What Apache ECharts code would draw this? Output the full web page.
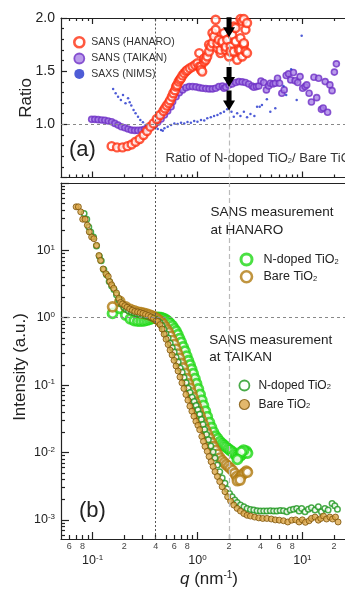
<!DOCTYPE html>
<html lang="en">
<head>
<meta charset="UTF-8">
<title>SANS / SAXS ratio and intensity</title>
<style>
  html, body { margin: 0; padding: 0; background: #fff; }
  #main { width: 345px; height: 590px; }
</style>
</head>
<body>
<div id="main"></div>
<script src="https://cdn.jsdelivr.net/npm/echarts@6.0.0/dist/echarts.min.js"></script>
<script>
// ---- panel (a): ratio N-doped / bare, points are [q (nm-1), ratio]
var ratioHanaro = [[0.152,0.795],[0.171,0.783],[0.193,0.783],[0.215,0.795],[0.236,0.811],[0.257,0.836],[0.281,0.861],
  [0.306,0.899],[0.330,0.937],[0.355,0.978],[0.381,1.009],[0.409,1.05],[0.44,1.088],[0.473,1.126],[0.49,1.15],
  [0.509,1.176],[0.53,1.2],[0.548,1.226],[0.57,1.26],[0.589,1.292],[0.61,1.32],[0.625,1.355],[0.64,1.37],[0.661,1.402],
  [0.68,1.42],[0.697,1.434],[0.72,1.46],[0.748,1.481],[0.78,1.5],[0.804,1.512],[0.847,1.528],[0.897,1.543],[0.951,1.559],
  [1.0,1.575],[1.04,1.67],[1.04,1.543],[1.08,1.543],[1.08,1.512],[1.11,1.496],[1.16,1.59],[1.16,1.62],[1.2,1.607],
  [1.24,1.638],[1.29,1.685],[1.29,1.75],[1.34,1.732],[1.39,1.764],[1.39,1.86],[1.44,1.826],[1.49,1.89],[1.49,1.984],
  [1.55,1.717],[1.55,1.76],[1.6,1.795],[1.66,1.67],[1.66,1.70],[1.73,1.764],[1.73,1.78],[1.79,1.858],[1.86,1.70],
  [1.86,1.73],[1.92,1.795],[2.0,1.638],[2.07,1.732],[2.07,1.685],[2.14,1.842],[2.22,1.685],[2.22,1.92],[2.31,1.78],
  [2.31,1.906],[2.39,1.607],[2.48,1.70],[2.57,1.811],[2.57,1.99],[2.57,1.70],[2.67,1.638],[2.67,1.97],[2.77,1.748],
  [2.77,1.99],[2.77,1.764],[2.87,1.89],[2.87,1.685],[2.97,1.67],[2.97,1.953]];
var ratioTaikan = [[0.098,1.047],[0.105,1.047],[0.113,1.044],[0.122,1.041],[0.131,1.038],[0.141,1.031],[0.152,1.025],
  [0.163,1.009],[0.175,0.993],[0.188,0.977],[0.203,0.968],[0.218,0.956],[0.234,0.946],[0.252,0.943],[0.27,0.943],
  [0.291,0.946],[0.313,0.953],[0.336,0.962],[0.362,0.975],[0.389,0.993],[0.418,1.019],[0.45,1.05],[0.484,1.088],
  [0.52,1.126],[0.56,1.166],[0.58,1.213],[0.625,1.26],[0.671,1.298],[0.722,1.324],[0.776,1.345],[0.834,1.355],
  [0.897,1.355],[0.966,1.352],[1.04,1.345],[1.115,1.34],[1.2,1.336],[1.29,1.333],[1.39,1.333],[1.49,1.34],[1.6,1.355],
  [1.73,1.361],[1.79,1.34],[1.86,1.349],[2.0,1.371],[2.14,1.38],[2.31,1.393],[2.48,1.402],[2.67,1.399],[2.87,1.393],
  [3.08,1.38],[3.31,1.361],[3.44,1.349],[3.65,1.355],[3.84,1.361],[4.03,1.408],[4.28,1.393],[4.54,1.324],[4.77,1.361],
  [4.95,1.387],[5.24,1.38],[5.52,1.387],[5.8,1.434],[6.06,1.387],[6.37,1.292],[6.71,1.324],[7.01,1.459],[7.38,1.475],
  [7.75,1.418],[8.22,1.487],[8.53,1.411],[9.03,1.393],[9.51,1.449],[10.07,1.34],[10.6,1.355],[11.0,1.371],[11.6,1.292],
  [12.2,1.21],[12.9,1.443],[13.7,1.251],[14.3,1.434],[15.2,1.141],[15.8,1.154],[16.5,1.402],[17.4,1.113],[18.3,1.371],
  [19.2,1.317],[20.2,1.491],[21.1,1.569]];
var ratioSaxs = [[0.157,1.333],[0.166,1.292],[0.175,1.26],[0.186,1.229],[0.195,1.276],[0.206,1.198],[0.218,1.245],
  [0.226,1.207],[0.234,1.176],[0.246,1.135],[0.257,1.104],[0.271,1.072],[0.285,1.041],[0.302,1.019],[0.32,0.993],
  [0.336,0.977],[0.362,0.962],[0.389,0.968],[0.418,0.956],[0.45,0.946],[0.467,0.94],[0.484,0.962],[0.52,0.977],
  [0.56,0.993],[0.602,1.009],[0.647,1.003],[0.697,1.015],[0.748,1.009],[0.804,1.022],[0.865,1.015],[0.931,1.031],
  [1.0,1.025],[1.08,1.041],[1.16,1.035],[1.24,1.057],[1.34,1.066],[1.44,1.078],[1.55,1.088],[1.66,1.104],[1.79,1.119],
  [1.92,1.141],[2.0,1.166],[2.11,1.119],[2.22,1.072],[2.39,1.104],[2.57,1.078],[2.77,1.119],[2.97,1.066],[3.2,1.097],
  [3.49,1.078],[3.7,1.166],[3.92,1.166],[4.12,1.182],[4.59,1.236],[4.95,1.119],[5.52,1.151],[6.61,1.361],[7.01,1.276],
  [7.82,1.519],[8.83,1.229],[9.85,1.833]];

// ---- panel (b): intensity (a.u.), points are [q (nm-1), I]
var hanaroN = [[0.155,1.16],[0.182,1.38],[0.207,1.1],[0.229,0.96],[0.25,0.91],[0.27,0.89],[0.29,0.89],[0.31,0.9],
  [0.33,0.92],[0.35,0.95],[0.37,0.98],[0.39,1.0],[0.41,1.01],[0.43,1.01],[0.45,1.0],[0.47,0.98],[0.49,0.95],[0.51,0.91],
  [0.53,0.87],[0.55,0.82],[0.575,0.76],[0.6,0.69],[0.625,0.63],[0.65,0.56],[0.675,0.49],[0.7,0.43],[0.73,0.37],
  [0.76,0.32],[0.79,0.27],[0.82,0.23],[0.85,0.2],[0.88,0.172],[0.91,0.148],[0.945,0.125],[0.98,0.105],[1.02,0.088],
  [1.06,0.073],[1.1,0.06],[1.14,0.05],[1.19,0.041],[1.24,0.034],[1.3,0.028],[1.36,0.0235],[1.42,0.02],[1.49,0.0175],
  [1.56,0.016],[1.64,0.0145],[1.72,0.0135],[1.8,0.0127],[1.88,0.012],[1.97,0.0113],[2.06,0.0107],[2.16,0.0102],
  [2.26,0.0095],[2.36,0.009],[2.46,0.0088],[2.57,0.0089],[2.68,0.0095],[2.8,0.0102],[2.92,0.0105],[3.0,0.0098],
  [2.75,0.0108],[2.62,0.0102],[2.4,0.0079]];
var hanaroBare = [[0.155,1.45],[0.182,1.75],[0.207,1.45],[0.229,1.33],[0.25,1.27],[0.27,1.22],[0.29,1.19],[0.31,1.16],
  [0.33,1.13],[0.35,1.1],[0.37,1.06],[0.39,1.02],[0.41,0.97],[0.43,0.92],[0.45,0.86],[0.47,0.8],[0.49,0.73],[0.51,0.66],
  [0.53,0.6],[0.55,0.53],[0.575,0.46],[0.6,0.4],[0.625,0.34],[0.65,0.29],[0.675,0.25],[0.7,0.21],[0.73,0.18],[0.76,0.15],
  [0.79,0.125],[0.82,0.105],[0.85,0.09],[0.88,0.077],[0.91,0.066],[0.945,0.056],[0.98,0.048],[1.02,0.041],[1.06,0.035],
  [1.1,0.03],[1.14,0.026],[1.19,0.022],[1.24,0.019],[1.3,0.0163],[1.36,0.014],[1.42,0.0122],[1.49,0.0107],[1.56,0.0094],
  [1.64,0.0083],[1.72,0.0076],[1.8,0.0071],[1.88,0.0066],[1.97,0.0062],[2.06,0.0058],[2.16,0.0054],[2.26,0.0049],
  [2.36,0.0044],[2.46,0.0041],[2.57,0.0043],[2.68,0.0047],[2.8,0.005],[2.92,0.0053],[3.0,0.0051],[2.4,0.0038],[2.55,0.0039]];
var taikanN = [[0.083,35.3],[0.088,29.0],[0.092,22.3],[0.096,18.8],[0.102,15.8],[0.109,11.6],[0.116,8.2],[0.121,7.0],
  [0.128,5.2],[0.136,4.34],[0.144,3.44],[0.152,2.96],[0.16,2.62],[0.169,2.2],[0.178,1.85],[0.188,1.6],[0.2,1.42],
  [0.21,1.33],[0.22,1.27],[0.235,1.22],[0.25,1.18],[0.265,1.15],[0.28,1.13],[0.3,1.1],[0.32,1.07],[0.34,1.04],
  [0.36,1.01],[0.38,0.98],[0.4,0.95],[0.42,0.9],[0.44,0.84],[0.46,0.76],[0.48,0.67],[0.5,0.58],[0.525,0.5],[0.55,0.42],
  [0.575,0.36],[0.6,0.31],[0.625,0.26],[0.655,0.22],[0.685,0.18],[0.715,0.155],[0.745,0.13],[0.78,0.108],[0.815,0.09],
  [0.85,0.078],[0.89,0.066],[0.93,0.057],[0.97,0.05],[1.01,0.043],[1.05,0.037],[1.09,0.031],[1.13,0.026],[1.17,0.022],
  [1.22,0.0185],[1.27,0.0155],[1.34,0.0125],[1.41,0.0102],[1.47,0.0083],[1.55,0.0065],[1.63,0.0052],[1.72,0.0042],
  [1.83,0.0035],[1.92,0.00287],[2.02,0.00247],[2.14,0.0022],[2.27,0.00197],[2.39,0.00181],[2.57,0.00166],[2.77,0.00156],
  [2.97,0.00148],[3.2,0.00143],[3.44,0.0014],[3.7,0.00136],[3.98,0.00135],[4.28,0.00135],[4.59,0.00135],[4.95,0.00136],
  [5.32,0.00135],[5.71,0.00135],[6.15,0.00138],[6.61,0.00136],[7.1,0.00132],[7.65,0.0014],[8.22,0.00144],[8.83,0.00148],
  [9.31,0.00135],[9.85,0.00148],[10.6,0.00132],[11.4,0.00144],[12.2,0.00151],[13.2,0.0014],[14.2,0.00156],[15.2,0.00132],
  [16.4,0.00148],[17.6,0.0014],[19.2,0.00175],[20.4,0.00162],[21.6,0.00144]];
var taikanBare = [[0.0697,44.3],[0.0732,44.3],[0.0771,37.3],[0.0805,29.0],[0.0848,29.0],[0.0891,23.6],[0.093,18.8],
  [0.098,15.8],[0.103,14.9],[0.109,11.9],[0.115,8.4],[0.119,7.1],[0.126,5.3],[0.134,4.5],[0.141,4.1],[0.146,3.44],
  [0.152,3.08],[0.159,2.74],[0.169,2.33],[0.178,1.94],[0.185,1.69],[0.193,1.6],[0.203,1.51],[0.213,1.43],[0.226,1.35],
  [0.239,1.29],[0.253,1.24],[0.269,1.22],[0.285,1.19],[0.302,1.16],[0.32,1.12],[0.34,1.08],[0.359,1.03],[0.381,0.98],
  [0.404,0.90],[0.418,0.88],[0.44,0.79],[0.46,0.68],[0.481,0.57],[0.502,0.48],[0.525,0.40],[0.548,0.33],[0.573,0.28],
  [0.598,0.233],[0.625,0.192],[0.653,0.162],[0.681,0.132],[0.711,0.108],[0.743,0.089],[0.776,0.0726],[0.811,0.0597],
  [0.847,0.0486],[0.885,0.041],[0.925,0.0345],[0.966,0.029],[1.01,0.0253],[1.05,0.0218],[1.10,0.0173],[1.14,0.0146],
  [1.18,0.0123],[1.24,0.0104],[1.29,0.0087],[1.35,0.0073],[1.41,0.0062],[1.47,0.0052],[1.55,0.0044],[1.63,0.0037],
  [1.72,0.0031],[1.83,0.00262],[1.94,0.0022],[2.07,0.0019],[2.22,0.00166],[2.39,0.00148],[2.57,0.00135],[2.77,0.00124],
  [2.97,0.00117],[3.2,0.00114],[3.51,0.0011],[3.84,0.00107],[4.19,0.00105],[4.59,0.00105],[5.06,0.00103],[5.52,0.0010],
  [6.02,0.00099],[6.61,0.00097],[7.26,0.00093],[7.92,0.00099],[8.64,0.001],[9.31,0.00093],[10.0,0.001],[10.7,0.00092],
  [11.6,0.00097],[12.2,0.00105],[13.2,0.0011],[14.2,0.00099],[15.0,0.00105],[15.9,0.00114],[17.0,0.00103],[18.3,0.0011],
  [19.4,0.00103],[20.7,0.0011],[21.9,0.00093]];

// ---- axes: ranges and tick positions
var qRange = [0.05, 25.5];
var iRange = [5.2e-4, 100];
var ratioRange = [0.5, 2.0];
var qMajor = [0.1, 1, 10];
var qMinor = [0.06,0.07,0.08,0.09,0.2,0.3,0.4,0.5,0.6,0.7,0.8,0.9,2,3,4,5,6,7,8,9,20];
var qMinorLabels = [0.06,0.08,0.2,0.4,0.6,0.8,2,4,6,8,20];
var iMajor = [0.001,0.01,0.1,1,10,100];
var iMajorLabels = [0.001,0.01,0.1,1,10];
var iMinor = [0.0006,0.0007,0.0008,0.0009,0.002,0.003,0.004,0.005,0.006,0.007,0.008,0.009,
  0.02,0.03,0.04,0.05,0.06,0.07,0.08,0.09,0.2,0.3,0.4,0.5,0.6,0.7,0.8,0.9,2,3,4,5,6,7,8,9,20,30,40,50,60,70,80,90];
var qGuides = [0.4, 2];
var arrowTips = [[2, 1.82], [2, 1.35], [2, 1.13]];

var FONT = '"Liberation Sans", Arial, Helvetica, sans-serif';
var AX = { color: '#222', width: 1.2 };
function lg(v) { return Math.log10(v); }

// value axis in log10 space laid over a log grid, only used for tick marks and labels
function qAxis(grid, pos, ticks, len, line, label) {
    return {
        type: 'value', gridIndex: grid, position: pos,
        min: lg(qRange[0]), max: lg(qRange[1]),
        axisLine: { show: line, onZero: false, lineStyle: AX },
        axisTick: ticks ? { show: true, inside: true, length: len, customValues: ticks.map(lg), lineStyle: AX } : { show: false },
        axisLabel: label || { show: false },
        splitLine: { show: false }
    };
}
function iAxis(ticks, len, line, label) {
    return {
        type: 'value', gridIndex: 1, position: 'left',
        min: lg(iRange[0]), max: lg(iRange[1]),
        axisLine: { show: line, onZero: false, lineStyle: AX },
        axisTick: { show: true, inside: true, length: len, customValues: ticks.map(lg), lineStyle: AX },
        axisLabel: label || { show: false },
        splitLine: { show: false }
    };
}
var powRich = {
    b: { fontSize: 12.5, color: '#222', fontFamily: FONT, lineHeight: 14 },
    s: { fontSize: 8, color: '#222', fontFamily: FONT, lineHeight: 5, verticalAlign: 'top' }
};
function powLabel(v) { return '{b|10}{s|' + Math.round(v) + '}'; }

function guides(hLine) {
    return {
        silent: true, symbol: 'none', label: { show: false }, animation: false,
        data: [
            { xAxis: qGuides[0], lineStyle: { color: '#555', type: [2, 2], width: 1 } },
            { xAxis: qGuides[1], lineStyle: { color: '#bbb', type: [5, 3], width: 1.2 } },
            { yAxis: hLine, lineStyle: { color: '#888', type: [3, 3], width: 1 } }
        ]
    };
}

var myChart = echarts.init(document.getElementById('main'), null, { renderer: 'canvas' });

var option = {
    animation: false,
    backgroundColor: '#fff',
    textStyle: { fontFamily: FONT },
    grid: [
        { left: 61, right: -2, top: 18, height: 159.5 },
        { left: 61, right: -2, top: 183, height: 356 }
    ],
    xAxis: [
        { type: 'log', gridIndex: 0, min: qRange[0], max: qRange[1], show: false },
        qAxis(0, 'bottom', qMajor, 6, true),
        qAxis(0, 'bottom', qMinor, 3, false),
        qAxis(0, 'top', qMajor, 6, true),
        qAxis(0, 'top', qMinor, 3, false),
        { type: 'log', gridIndex: 1, min: qRange[0], max: qRange[1], show: false },
        qAxis(1, 'bottom', qMajor, 7, true, {
            show: true, customValues: qMajor.map(lg), margin: 15, formatter: powLabel, rich: powRich
        }),
        qAxis(1, 'bottom', qMinor, 4, false, {
            show: true, customValues: qMinorLabels.map(lg), margin: 3, fontSize: 9, color: '#444', fontFamily: FONT,
            formatter: function (v) { return String(Math.round(Math.pow(10, v - Math.floor(v + 1e-9)))); }
        }),
        qAxis(1, 'top', null, 0, true)
    ],
    yAxis: [
        {
            type: 'value', gridIndex: 0, min: ratioRange[0], max: ratioRange[1], interval: 0.5, position: 'left',
            axisLine: { show: true, onZero: false, lineStyle: AX },
            axisTick: { show: true, inside: true, length: 6, lineStyle: AX },
            minorTick: { show: true, splitNumber: 5, length: 3, lineStyle: AX },
            axisLabel: {
                fontSize: 14, color: '#222', margin: 6, fontFamily: FONT,
                formatter: function (v) { return v === 0.5 ? '' : v.toFixed(1); }
            },
            splitLine: { show: false }
        },
        { type: 'log', gridIndex: 1, min: iRange[0], max: iRange[1], show: false },
        iAxis(iMajor, 8, true, { show: true, customValues: iMajorLabels.map(lg), margin: 6, formatter: powLabel, rich: powRich }),
        iAxis(iMinor, 4, false)
    ],
    legend: [
        {
            data: [
                { name: 'SANS (HANARO)', itemStyle: { borderWidth: 2.6 } },
                { name: 'SANS (TAIKAN)', itemStyle: { borderWidth: 1.8 } },
                { name: 'SAXS (NIMS)', itemStyle: { borderWidth: 0 } }
            ],
            orient: 'vertical', left: 68, top: 31, itemWidth: 14, itemHeight: 10, itemGap: 4, selectedMode: false,
            textStyle: { fontSize: 10.5, color: '#333', fontFamily: FONT, lineHeight: 10 }
        },
        {
            data: [
                { name: 'HANARO N', itemStyle: { borderWidth: 3 } },
                { name: 'HANARO Bare', itemStyle: { borderWidth: 2.6 } }
            ],
            orient: 'vertical', left: 234.5, top: 247.5, itemWidth: 24, itemHeight: 11, itemGap: 3.5, selectedMode: false,
            formatter: function (n) { return n.slice(-2) === ' N' ? 'N-doped TiO{s|2}' : 'Bare TiO{s|2}'; },
            textStyle: {
                fontSize: 12.5, color: '#222', fontFamily: FONT, lineHeight: 12,
                rich: { s: { fontSize: 7.5, color: '#222', fontFamily: FONT, lineHeight: 4, verticalAlign: 'bottom' } }
            }
        },
        {
            data: [
                { name: 'TAIKAN N', itemStyle: { borderWidth: 1.8 } },
                { name: 'TAIKAN Bare', itemStyle: { borderWidth: 1.2 } }
            ],
            orient: 'vertical', left: 233.5, top: 374.5, itemWidth: 18, itemHeight: 10, itemGap: 7, selectedMode: false,
            formatter: function (n) { return n.slice(-2) === ' N' ? 'N-doped TiO{s|2}' : 'Bare TiO{s|2}'; },
            textStyle: {
                fontSize: 12, color: '#222', fontFamily: FONT, lineHeight: 11,
                rich: { s: { fontSize: 7.5, color: '#222', fontFamily: FONT, lineHeight: 4, verticalAlign: 'bottom' } }
            }
        }
    ],
    series: [
        {
            name: 'SANS (TAIKAN)', type: 'scatter', xAxisIndex: 0, yAxisIndex: 0, data: ratioTaikan,
            symbolSize: 6, itemStyle: { color: '#a982e6', borderColor: '#6e30c6', borderWidth: 1.6 },
            markLine: guides(1)
        },
        {
            name: 'SAXS (NIMS)', type: 'scatter', xAxisIndex: 0, yAxisIndex: 0, data: ratioSaxs,
            symbolSize: 2.5, itemStyle: { color: '#2233cc' }
        },
        {
            name: 'SANS (HANARO)', type: 'scatter', xAxisIndex: 0, yAxisIndex: 0, data: ratioHanaro,
            symbolSize: 8, itemStyle: { color: '#fff', borderColor: '#ff3010', borderWidth: 2.4 },
            markPoint: {
                silent: true, animation: false,
                symbol: 'path://M3.2,0 L7.8,0 L7.8,10 L11,10 L5.5,20 L0,10 L3.2,10 Z',
                symbolSize: [12, 20], symbolKeepAspect: false, symbolOffset: [0, -10],
                itemStyle: { color: '#000' }, label: { show: false },
                data: arrowTips.map(function (p) { return { coord: p }; })
            }
        },
        {
            name: 'HANARO N', type: 'scatter', xAxisIndex: 5, yAxisIndex: 1, data: hanaroN,
            symbolSize: 9, itemStyle: { color: '#fff', borderColor: '#1ed814', borderWidth: 2.8 },
            markLine: guides(1)
        },
        {
            name: 'HANARO Bare', type: 'scatter', xAxisIndex: 5, yAxisIndex: 1, data: hanaroBare,
            symbolSize: 9, itemStyle: { color: '#fff', borderColor: '#b07a10', borderWidth: 2.6 }
        },
        {
            name: 'TAIKAN N', type: 'scatter', xAxisIndex: 5, yAxisIndex: 1, data: taikanN,
            symbolSize: 5.5, itemStyle: { color: '#fff', borderColor: '#1c961c', borderWidth: 1.5 }
        },
        {
            name: 'TAIKAN Bare', type: 'scatter', xAxisIndex: 5, yAxisIndex: 1, data: taikanBare,
            symbolSize: 6, itemStyle: { color: '#dca648', borderColor: '#7c5208', borderWidth: 1 }
        }
    ],
    graphic: [
        { type: 'text', x: 26, y: 98, rotation: Math.PI / 2,
          style: { text: 'Ratio', fontSize: 17, fontFamily: FONT, fill: '#222', align: 'center', verticalAlign: 'middle' } },
        { type: 'text', x: 20, y: 367, rotation: Math.PI / 2,
          style: { text: 'Intensity (a.u.)', fontSize: 17, fontFamily: FONT, fill: '#222', align: 'center', verticalAlign: 'middle' } },
        { type: 'text', x: 209, y: 579,
          style: { text: '{i|q} (nm{s|-1})', fontSize: 17, fontFamily: FONT, fill: '#222', align: 'center', verticalAlign: 'middle',
                   rich: { i: { fontSize: 17, fontFamily: FONT, fontStyle: 'italic', fill: '#222', lineHeight: 18 },
                           s: { fontSize: 10, fontFamily: FONT, fill: '#222', lineHeight: 6, verticalAlign: 'top' } } } },
        { type: 'text', x: 69, y: 150,
          style: { text: '(a)', fontSize: 22, fontFamily: FONT, fill: '#222', align: 'left', verticalAlign: 'middle' } },
        { type: 'text', x: 79, y: 511,
          style: { text: '(b)', fontSize: 22, fontFamily: FONT, fill: '#222', align: 'left', verticalAlign: 'middle' } },
        { type: 'text', x: 165.5, y: 158,
          style: { text: 'Ratio of N-doped TiO{s|2}/ Bare TiO{s|2}', fontSize: 13, fontFamily: FONT, fill: '#333',
                   align: 'left', verticalAlign: 'middle',
                   rich: { s: { fontSize: 7.5, fontFamily: FONT, fill: '#333', lineHeight: 4, verticalAlign: 'bottom' } } } },
        { type: 'text', x: 210.5, y: 212.7,
          style: { text: 'SANS measurement', fontSize: 13.5, fontFamily: FONT, fill: '#222', align: 'left', verticalAlign: 'middle' } },
        { type: 'text', x: 210.5, y: 230,
          style: { text: 'at HANARO', fontSize: 13.5, fontFamily: FONT, fill: '#222', align: 'left', verticalAlign: 'middle' } },
        { type: 'text', x: 209.3, y: 340.7,
          style: { text: 'SANS measurement', fontSize: 13.5, fontFamily: FONT, fill: '#222', align: 'left', verticalAlign: 'middle' } },
        { type: 'text', x: 209.3, y: 357.3,
          style: { text: 'at TAIKAN', fontSize: 13.5, fontFamily: FONT, fill: '#222', align: 'left', verticalAlign: 'middle' } }
    ]
};
myChart.setOption(option);
</script>
</body>
</html>
